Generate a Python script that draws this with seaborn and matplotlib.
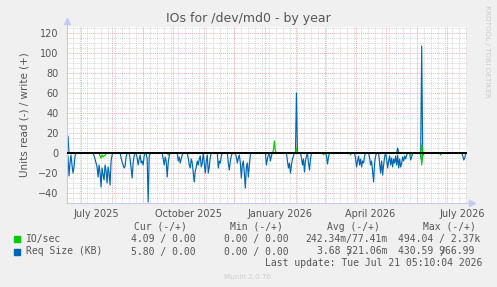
import matplotlib
matplotlib.use("Agg")
import numpy as np
import pandas as pd
import matplotlib.pyplot as plt
import seaborn as sns

# --- data (days counted from 2025-06-17, one value per day) ---
start = pd.Timestamp("2025-06-17")
end = pd.Timestamp("2026-07-21 05:10:04")
n_days = 400

# Req Size (KB), read side, bursts: first day + magnitudes
req_read_start = [0, 27, 54, 63, 70, 80, 96, 111, 121, 151, 161, 169, 199,
                  220, 234, 259, 288, 302, 312, 319, 343, 353, 395]
req_read_vals = [
    [8, 3, 23, 10, 2, 12, 20, 14, 3],
    [3, 6, 10, 14, 24, 12, 20, 34, 15, 22, 27, 12, 18, 30, 14, 20, 32, 8, 2],
    [5, 9, 12, 15, 13, 4],
    [6, 15, 25, 10, 3],
    [5, 12, 6, 2, 10, 8, 12, 3],
    [6, 49, 4],
    [6, 12, 4, 8, 24, 10, 3],
    [8, 4, 10, 6, 2],
    [5, 12, 15, 6, 10, 20, 29, 18, 14, 8, 12, 6, 3, 14, 10, 0, 10, 20, 8, 2, 20, 14, 4],
    [15, 8, 10, 3],
    [10, 17, 8, 3],
    [4, 10, 5, 2, 10, 25, 12, 8, 20, 35, 14, 10, 24, 12, 2],
    [12, 6, 2, 0, 8, 3],
    [8, 15, 10, 20, 12, 6, 3],
    [5, 12, 6, 19, 8, 3, 0, 10, 17, 6],
    [3, 11, 4],
    [5, 14, 8, 3, 12, 6, 14, 8, 10, 3],
    [5, 12, 8, 18, 29, 10, 3],
    [10, 20, 8, 22, 12, 4],
    [6, 15, 8, 3, 12, 5, 14, 6, 10, 3, 12, 2, 15, 6, 14, 10, 4, 8, 3, 6, 2],
    [7, 4],
    [2, 8, 3],
    [3, 7, 5],
]
# Req Size (KB), write side
req_write_days = [1, 229, 330, 354]
req_write_vals = [17, 60, 5, 107]

# IO/sec, read side
io_read_start = [33, 101, 199, 256, 283, 343, 354, 373]
io_read_vals = [[3, 5, 2, 4, 3, 2, 1], [2], [1], [2], [2], [2], [12], [2]]
# IO/sec, write side
io_write_days = [206, 207, 208, 229, 354]
io_write_vals = [3, 12, 2, 5, 8]

# legend table
legend_names = ["IO/sec", "Req Size (KB)"]
legend_cur = ["4.09 / 0.00", "5.80 / 0.00"]
legend_min = ["0.00 / 0.00", "0.00 / 0.00"]
legend_avg = ["242.34m/77.41m", "3.68 521.06m"]
legend_max = ["494.04 / 2.37k", "430.59 966.99"]

GREEN = "#00CC00"
BLUE = "#0066B3"
TXT = "#555555"


def from_bursts(starts, bursts):
    arr = np.zeros(n_days)
    for s, vals in zip(starts, bursts):
        arr[s:s + len(vals)] = vals
    return arr


def from_points(days, vals):
    arr = np.zeros(n_days)
    arr[days] = vals
    return arr


dates = start + pd.to_timedelta(np.arange(n_days), unit="D")
df = pd.DataFrame({
    "date": dates,
    "req_read": -from_bursts(req_read_start, req_read_vals),
    "req_write": from_points(req_write_days, req_write_vals),
    "io_read": -from_bursts(io_read_start, io_read_vals),
    "io_write": from_points(io_write_days, io_write_vals),
})

sns.set_style("white")
plt.rcParams["font.family"] = ["DejaVu Sans"]

W, H = 497, 287
fig = plt.figure(figsize=(W / 100, H / 100), dpi=100, facecolor="#F0F0F0")
ax = fig.add_axes([67 / W, (H - 203) / H, 400 / W, 176 / H])
ax.set_facecolor("white")

lw = 0.85
sns.lineplot(data=df, x="date", y="req_read", color=BLUE, lw=lw, ax=ax)
sns.lineplot(data=df, x="date", y="req_write", color=BLUE, lw=lw, ax=ax)
sns.lineplot(data=df, x="date", y="io_read", color=GREEN, lw=lw, ax=ax)
sns.lineplot(data=df, x="date", y="io_write", color=GREEN, lw=lw, ax=ax)
ax.axhline(0, color="black", lw=1.4, zorder=5)

ax.set_xlim(start, end)
ax.set_ylim(-50, 126)

# grid: weekly grey, monthly red (x); 5 grey, 20 red (y)
grey = "#d6d6d6"
red = "#e8b4b4"
for d in pd.date_range("2025-06-23", end, freq="7D"):
    ax.axvline(d, color=grey, lw=0.7, ls=(0, (1, 1)), zorder=0)
months = pd.date_range("2025-07-01", end, freq="MS")
for d in months:
    ax.axvline(d, color=red, lw=0.7, ls=(0, (1, 1)), zorder=0.5)
for v in range(-45, 126, 5):
    ax.axhline(v, color=red if v % 20 == 0 else grey, lw=0.7,
               ls=(0, (1, 1)), zorder=0.5 if v % 20 == 0 else 0)

ax.set_yticks(range(-40, 121, 20))
ax.set_yticks(range(-45, 126, 5), minor=True)
ax.tick_params(axis="y", which="both", length=2, width=0.6, color="#bbbbbb",
               pad=4, labelsize=7, labelcolor=TXT)

ax.set_xticks(months)
ax.set_xticklabels([])
label_dates = pd.to_datetime(["2025-07-16", "2025-10-16", "2026-01-16",
                              "2026-04-16", "2026-07-16"])
ax.set_xticks(label_dates, minor=True)
ax.set_xticklabels([d.strftime("%B %Y") for d in label_dates], minor=True)
ax.tick_params(axis="x", which="major", length=2.5, width=0.6, color="#e8a0a0")
ax.tick_params(axis="x", which="minor", length=0, pad=4.5, labelsize=7,
               labelcolor=TXT)

ax.set_xlabel("")
ax.set_ylabel("Units read (-) / write (+)", fontsize=7.5, color=TXT, labelpad=6)
for s in ["top", "right"]:
    ax.spines[s].set_visible(False)
for s in ["left", "bottom"]:
    ax.spines[s].set_color("#c8c8f4")
    ax.spines[s].set_linewidth(0.8)

# axis arrows
ax.plot([0, 0], [1, 1.03], color="#c8c8f4", lw=0.8, transform=ax.transAxes,
        clip_on=False)
ax.plot([0], [1.035], marker="^", ms=4, color="#c8c8f4", transform=ax.transAxes,
        clip_on=False)
ax.plot([1, 1.01], [0, 0], color="#c8c8f4", lw=0.8, transform=ax.transAxes,
        clip_on=False)
ax.plot([1.012], [0], marker=">", ms=4, color="#c8c8f4", transform=ax.transAxes,
        clip_on=False)


def px(x, y):
    return x / W, 1 - y / H


fig.text(*px(248, 18.5), "IOs for /dev/md0 - by year", ha="center", va="center",
         fontsize=9, color=TXT)
fig.text(*px(487, 5), "RRDTOOL / TOBI OETIKER", rotation=270, ha="center",
         va="top", fontsize=5.2, color="#cccccc")

mono = "DejaVu Sans Mono"
fs = 7
cw = 0.602 * fs * 100 / 72  # monospace cell width in pixels
heads = [("Cur (-/+)", 134), ("Min (-/+)", 230), ("Avg (-/+)", 327), ("Max (-/+)", 423)]
for t, x in heads:
    fig.text(*px(x, 226.5), t, family=mono, fontsize=fs, color=TXT, va="center")

rows_y = [239, 251.5]
colors = [GREEN, BLUE]
for i in range(2):
    y = rows_y[i]
    fig.patches.append(plt.Rectangle(px(14, y + 3), 6 / W, 6 / H,
                                     transform=fig.transFigure,
                                     color=colors[i]))
    fig.text(*px(26, y), legend_names[i], family=mono, fontsize=fs, color=TXT,
             va="center")
    fig.text(*px(131, y), legend_cur[i], family=mono, fontsize=fs, color=TXT,
             va="center")
    fig.text(*px(224, y), legend_min[i], family=mono, fontsize=fs, color=TXT,
             va="center")
    ax_x = 305 if i == 0 else 317
    fig.text(*px(ax_x, y), legend_avg[i], family=mono, fontsize=fs, color=TXT,
             va="center")
    fig.text(*px(398.5, y), legend_max[i], family=mono, fontsize=fs, color=TXT,
             va="center")
    if i == 1:
        # overlapping slash as in the original legend
        fig.text(*px(317 + 5 * cw, y), "/", family=mono, fontsize=fs,
                 color=TXT, va="center")
        fig.text(*px(398.5 + 7 * cw, y), "/", family=mono, fontsize=fs,
                 color=TXT, va="center")

fig.text(*px(482, 263), "Last update: Tue Jul 21 05:10:04 2026", family=mono,
         fontsize=fs, color=TXT, va="center", ha="right")
fig.text(*px(248, 277), "Munin 2.0.76", ha="center", va="center", fontsize=5.2,
         color="#cccccc")

fig.savefig("out.png", dpi=100, facecolor=fig.get_facecolor())
